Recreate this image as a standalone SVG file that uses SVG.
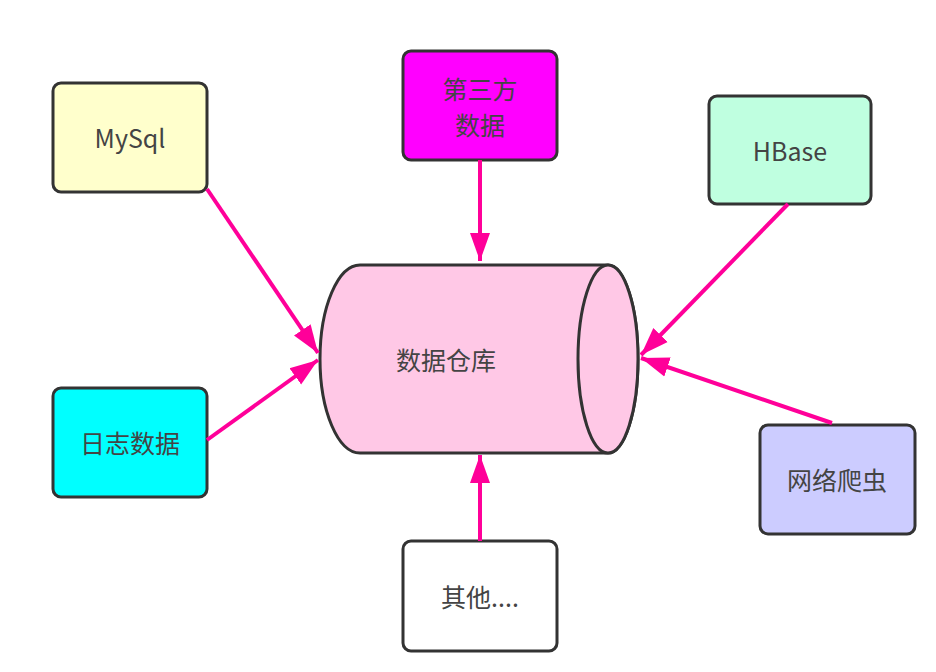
<svg xmlns="http://www.w3.org/2000/svg" width="936" height="672" viewBox="0 0 936 672">
<style>
  .box { stroke: #333; stroke-width: 3; }
  .lbl { font-family: "Noto Sans CJK SC", "Open Sans", sans-serif; font-size: 25px; fill: #444; text-anchor: middle; dominant-baseline: central; }
  .conn line { stroke: #FF0099; stroke-width: 4; marker-end: url(#ah); }
</style>
<defs>
  <marker id="ah" markerUnits="userSpaceOnUse" markerWidth="30" markerHeight="22" refX="28" refY="11" orient="auto" viewBox="0 0 30 22">
    <path d="M0,1 L28,11 L0,21 Z" fill="#FF0099"/>
  </marker>
</defs>
<rect width="936" height="672" fill="#fff"/>

<g id="warehouse">
  <path d="M608,265 L360,265 A40,94 0 0 0 360,453 L608,453 A30,94 0 0 0 608,265 Z" fill="#FFC8E6" stroke="#333" stroke-width="3"/>
  <ellipse cx="608" cy="359" rx="30" ry="94" fill="#FFC8E6" stroke="#333" stroke-width="3"/>
  <text class="lbl" x="446" y="359">数据仓库</text>
</g>

<g id="mysql">
  <rect class="box" x="53" y="83" width="154" height="109" rx="8" fill="#FFFFCC"/>
  <text class="lbl" x="130" y="137">MySql</text>
</g>
<g id="thirdparty">
  <rect class="box" x="403" y="51" width="154" height="109" rx="8" fill="#FF00FF"/>
  <text class="lbl" x="480" y="88">第三方</text>
  <text class="lbl" x="480" y="124">数据</text>
</g>
<g id="hbase">
  <rect class="box" x="709" y="96" width="162" height="108" rx="8" fill="#BFFFE0"/>
  <text class="lbl" x="790" y="150">HBase</text>
</g>
<g id="logs">
  <rect class="box" x="53" y="388" width="154" height="109" rx="8" fill="#00FFFF"/>
  <text class="lbl" x="130" y="442">日志数据</text>
</g>
<g id="crawler">
  <rect class="box" x="760" y="425" width="155" height="109" rx="8" fill="#CCCCFF"/>
  <text class="lbl" x="837" y="479">网络爬虫</text>
</g>
<g id="others">
  <rect class="box" x="403" y="541" width="154" height="110" rx="8" fill="#FFFFFF"/>
  <text class="lbl" x="480" y="596">其他....</text>
</g>

<g id="connectors" class="conn">
  <line x1="207" y1="189" x2="318" y2="353"/>
  <line x1="207" y1="440" x2="318" y2="360"/>
  <line x1="480" y1="160" x2="480" y2="261"/>
  <line x1="480" y1="541" x2="480" y2="455"/>
  <line x1="788" y1="204" x2="641" y2="355"/>
  <line x1="832" y1="423" x2="641" y2="358"/>
</g>
</svg>
